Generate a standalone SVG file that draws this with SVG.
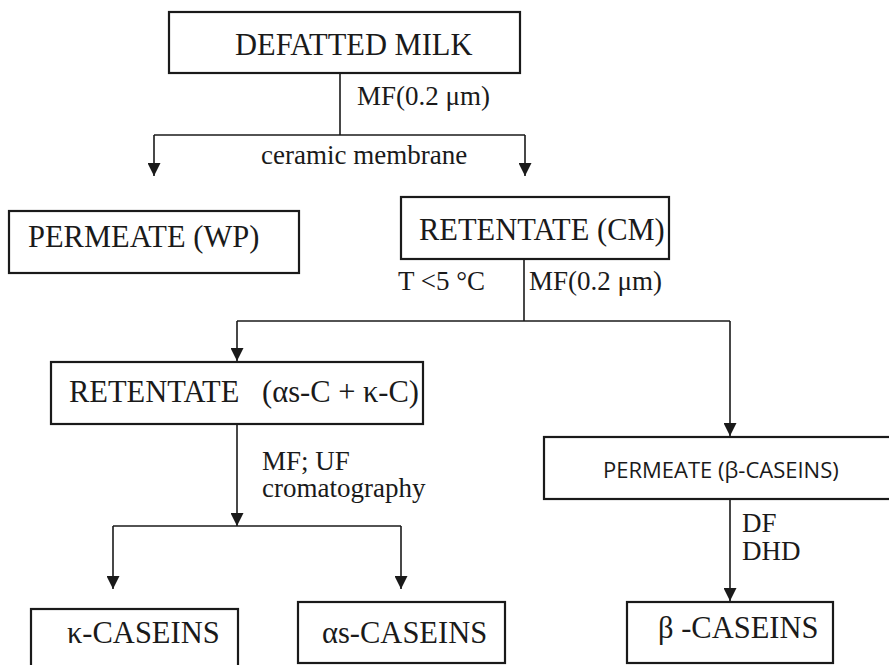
<svg xmlns="http://www.w3.org/2000/svg" width="889" height="665" viewBox="0 0 889 665">
<style>
.box{fill:#fff;stroke:#1a1a1a;stroke-width:2.2}
.n{font-family:'Liberation Serif','Times New Roman',serif;font-size:30.5px;fill:#1a1a1a}
.s{font-family:'Open Sans','Noto Sans',sans-serif;font-size:22px;fill:#1a1a1a}
.l{font-family:'Liberation Serif','Times New Roman',serif;font-size:27px;fill:#1a1a1a}
.c{fill:none;stroke:#1a1a1a;stroke-width:1.6}
</style>
<defs>
<marker id="ah" markerWidth="14" markerHeight="13" refX="13" refY="6.5" orient="auto" markerUnits="userSpaceOnUse">
<path d="M0,0 L13,6.5 L0,13 Z" fill="#1a1a1a"/>
</marker>
</defs>
<rect width="889" height="665" fill="#fff"/>
<g id="connectors">
<path class="c" d="M340,73 V135"/>
<path class="c" d="M154,135 H525"/>
<path class="c" d="M154,135 V176" marker-end="url(#ah)"/>
<path class="c" d="M525,135 V176" marker-end="url(#ah)"/>
<path class="c" d="M524,259 V321"/>
<path class="c" d="M237,321 H730"/>
<path class="c" d="M237,321 V361" marker-end="url(#ah)"/>
<path class="c" d="M730,321 V436" marker-end="url(#ah)"/>
<path class="c" d="M237,424 V526" marker-end="url(#ah)"/>
<path class="c" d="M113,526 H401"/>
<path class="c" d="M113,526 V589" marker-end="url(#ah)"/>
<path class="c" d="M401,526 V589" marker-end="url(#ah)"/>
<path class="c" d="M730,499 V601" marker-end="url(#ah)"/>
<text class="l" x="357" y="105">MF(0.2 μm)</text>
<text class="l" x="261" y="164">ceramic membrane</text>
<text class="l" x="398" y="290">T &lt;5 °C</text>
<text class="l" x="529" y="290">MF(0.2 μm)</text>
<text class="l" x="262" y="470">MF; UF</text>
<text class="l" x="262" y="497">cromatography</text>
<text class="l" x="742" y="532">DF</text>
<text class="l" x="742" y="560">DHD</text>
</g>
<g id="defatted-milk">
<rect class="box" x="169" y="12" width="351" height="61"/>
<text class="n" x="235" y="55">DEFATTED MILK</text>
</g>
<g id="permeate-wp">
<rect class="box" x="9" y="211" width="290" height="62"/>
<text class="n" x="28" y="247">PERMEATE (WP)</text>
</g>
<g id="retentate-cm">
<rect class="box" x="401" y="197" width="268" height="62"/>
<text class="n" x="419" y="240">RETENTATE (CM)</text>
</g>
<g id="retentate-as-k">
<rect class="box" x="51" y="362" width="372" height="62"/>
<text class="n" x="69" y="402">RETENTATE <tspan x="262">(αs-C + κ-C)</tspan></text>
</g>
<g id="permeate-beta">
<rect class="box" x="544" y="437" width="350" height="62"/>
<text class="s" x="603" y="478">PERMEATE (β-CASEINS)</text>
</g>
<g id="kappa-caseins">
<rect class="box" x="31" y="609" width="207" height="70"/>
<text class="n" x="67" y="643">κ-CASEINS</text>
</g>
<g id="alpha-caseins">
<rect class="box" x="298" y="602" width="207" height="61"/>
<text class="n" x="322" y="643">αs-CASEINS</text>
</g>
<g id="beta-caseins">
<rect class="box" x="627" y="602" width="206" height="61"/>
<text class="n" x="658" y="638">β -CASEINS</text>
</g>
</svg>
